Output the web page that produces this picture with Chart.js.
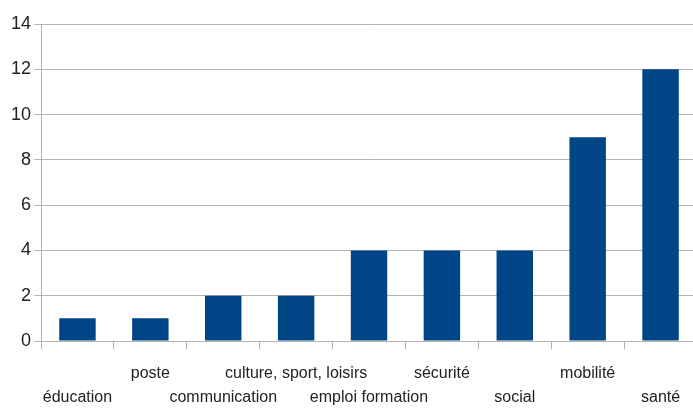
<!DOCTYPE html>
<html><head><meta charset="utf-8">
<script src="https://cdn.jsdelivr.net/npm/chart.js@4/dist/chart.umd.min.js"></script>
<style>
html,body{margin:0;padding:0;background:#fff;overflow:hidden;}
#wrap{width:697px;height:408px;position:relative;}
</style></head><body>
<div id="wrap"><canvas id="c"></canvas></div>
<script>
const categories = ['éducation','poste','communication','culture, sport, loisirs','emploi formation','sécurité','social','mobilité','santé'];
const values = [1,1,2,2,4,4,4,9,12];
const yTicks = [0,2,4,6,8,10,12,14];

const labels = categories.map((c,i)=> i%2===0 ? ['', c] : [c, '']);
const FONT = "'Liberation Sans Narrow','Arial Narrow','Liberation Sans',sans-serif";

new Chart(document.getElementById('c'), {
  type:'bar',
  data:{labels:labels, datasets:[{data:values, backgroundColor:'#004586', barPercentage:0.5, categoryPercentage:1}]},
  options:{
    responsive:true, maintainAspectRatio:false, animation:false,
    layout:{padding:{top:24,left:8,right:0,bottom:0}},
    plugins:{legend:{display:false}, tooltip:{enabled:false}},
    scales:{
      x:{
        afterFit:(ax)=>{ax.height = 67;},
        grid:{drawOnChartArea:false, drawTicks:true, tickLength:8, color:'#b3b3b3', offset:true},
        border:{color:'#b3b3b3'},
        ticks:{font:{family:FONT,size:16,lineHeight:1.5}, color:'#222', maxRotation:0, autoSkip:false, padding:13}
      },
      y:{
        min:0,max:14,
        afterBuildTicks:(ax)=>{ax.ticks = yTicks.map(v=>({value:v}));},
        grid:{color:'#b3b3b3', tickLength:7},
        border:{color:'#b3b3b3'},
        ticks:{font:{family:FONT,size:18}, color:'#222', padding:3}
      }
    }
  }
});
</script></body></html>
